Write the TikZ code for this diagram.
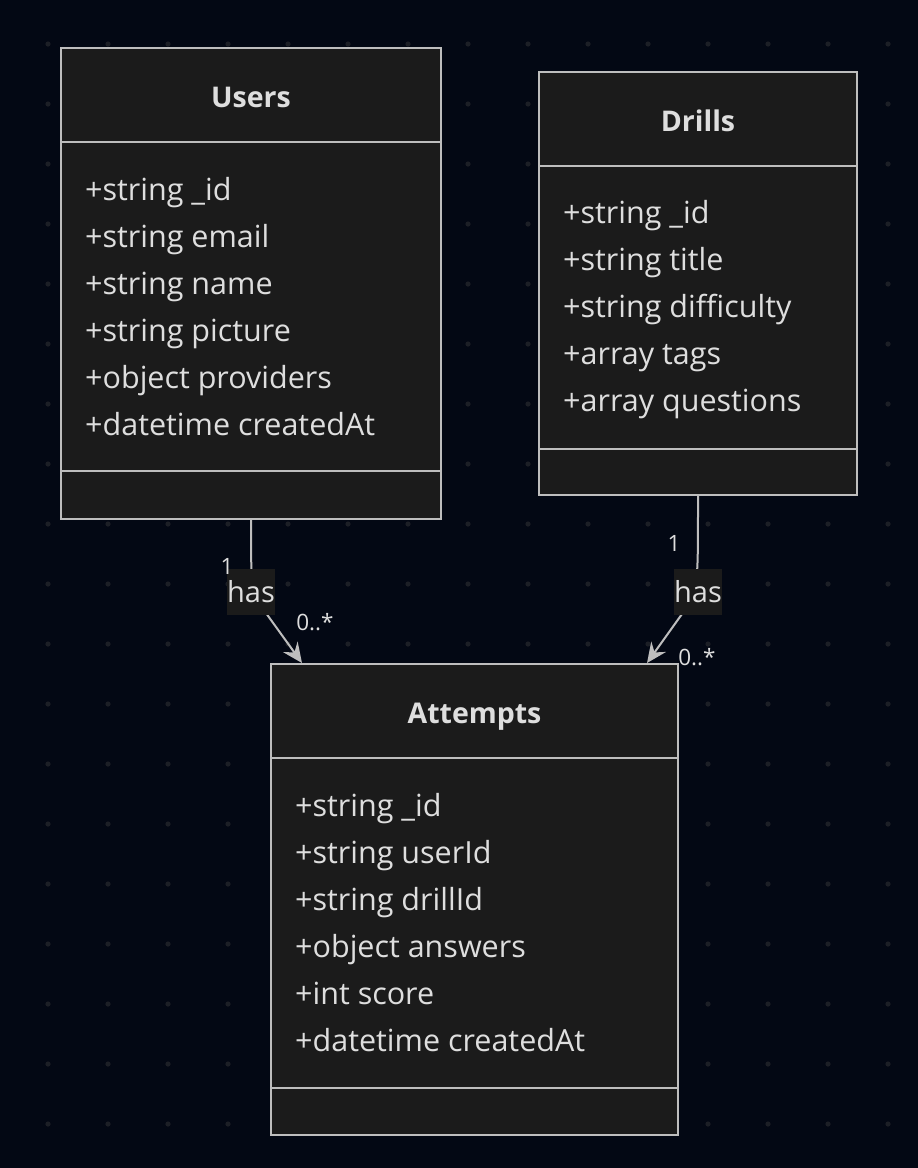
\documentclass[tikz,border=0pt]{standalone}
\usepackage{fontspec}
\setmainfont{Open Sans}
\usetikzlibrary{arrows.meta}
\definecolor{bg}{RGB}{3,8,20}
\definecolor{boxfill}{RGB}{27,27,27}
\definecolor{boxline}{RGB}{190,190,190}
\definecolor{txt}{RGB}{222,222,222}
\definecolor{dotc}{RGB}{28,31,38}
\tikzset{
  attr/.style={anchor=base west, inner sep=0pt, text=txt, font=\fontsize{30.5}{30.5}\selectfont},
  ttl/.style={anchor=base, inner sep=0pt, text=txt, font=\fontsize{28.5}{28.5}\selectfont\bfseries},
  cbox/.style={draw=boxline, line width=2pt, fill=boxfill},
  lbl/.style={fill=boxfill, text=txt, inner sep=0pt, minimum width=46pt, minimum height=46pt, font=\fontsize{29}{29}\selectfont},
  card/.style={text=txt, inner sep=0pt, font=\fontsize{22.5}{22.5}\selectfont},
  rel/.style={draw=boxline, line width=2pt, -{Stealth[length=20pt,width=18pt,inset=7pt]}},
}
\begin{document}
\begin{tikzpicture}[x=1pt,y=-1pt]
\fill[bg] (0,0) rectangle (918,1168);
\useasboundingbox (0,0) rectangle (918,1168);
\foreach \i in {0,...,14} {\foreach \j in {0,...,18} {
  \fill[dotc] ({48+60*\i},{44+60*\j}) circle (2.6pt);
}}
% Users
\draw[cbox] (61,48) rectangle (441,519);
\draw[boxline, line width=2pt] (61,142) -- (441,142) (61,471) -- (441,471);
\node[ttl] (usersT) at (251,107) {Users};
\node[attr] (u1) at (85,200) {+string \_id};
\node[attr] (u2) at (85,247) {+string email};
\node[attr] (u3) at (85,294) {+string name};
\node[attr] (u4) at (85,341) {+string picture};
\node[attr] (u5) at (85,388) {+object providers};
\node[attr] (u6) at (85,435) {+datetime createdAt};
\coordinate (usersB) at (251,519);
% Drills
\draw[cbox] (539,72) rectangle (857,495);
\draw[boxline, line width=2pt] (539,166) -- (857,166) (539,449) -- (857,449);
\node[ttl] (drillsT) at (698,131) {Drills};
\node[attr] (d1) at (563,223) {+string \_id};
\node[attr] (d2) at (563,270) {+string title};
\node[attr] (d3) at (563,317) {+string difficulty};
\node[attr] (d4) at (563,364) {+array tags};
\node[attr] (d5) at (563,411) {+array questions};
\coordinate (drillsB) at (698,495);
% Attempts
\draw[cbox] (271,664) rectangle (678,1135);
\draw[boxline, line width=2pt] (271,758) -- (678,758) (271,1088) -- (678,1088);
\node[ttl] (attT) at (474.5,723) {Attempts};
\node[attr] (a1) at (295,816) {+string \_id};
\node[attr] (a2) at (295,863) {+string userId};
\node[attr] (a3) at (295,910) {+string drillId};
\node[attr] (a4) at (295,957) {+object answers};
\node[attr] (a5) at (295,1004) {+int score};
\node[attr] (a6) at (295,1051) {+datetime createdAt};
\coordinate (attL) at (302,663);
\coordinate (attR) at (647,663);
% relations
\path[rel] (usersB) .. controls (251,580) .. (258,602) -- (attL);
\path[rel] (drillsB) .. controls (698,575) .. (692,600) -- (attR);
\node[lbl] (has1) at (251,592) {has};
\node[lbl] (has2) at (698,592) {has};
\node[card] (c1a) at (227,566) {1};
\node[card] (c1b) at (315,622) {0..*};
\node[card] (c2a) at (674,543) {1};
\node[card] (c2b) at (697,657) {0..*};
\end{tikzpicture}
\end{document}
